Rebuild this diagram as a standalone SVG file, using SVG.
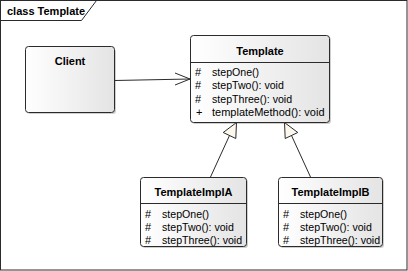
<svg xmlns="http://www.w3.org/2000/svg" width="408" height="271" viewBox="0 0 408 271">
<style>
text{font-family:"Liberation Sans",Arial,sans-serif;font-size:11px;fill:#000}
.b{font-weight:bold}
.m{font-size:10.6px}
.box{fill:url(#g);stroke:#2b2b2b;stroke-width:1}
.sh{fill:#cfcfcf}
.ln{stroke:#2b2b2b;stroke-width:1;fill:none}
.tri{fill:#fdf8ee;stroke:#2b2b2b;stroke-width:1}
</style>
<defs>
<linearGradient id="g" x1="0" y1="0" x2="1" y2="0">
<stop offset="0" stop-color="#ffffff"/>
<stop offset="1" stop-color="#e4e4e4"/>
</linearGradient>
</defs>
<rect x="0" y="0" width="408" height="271" fill="#fff"/>
<g id="frame">
<rect x="0.5" y="0.5" width="406.5" height="269.5" fill="none" stroke="#2b2b2b"/>
<path class="ln" d="M0.5 20.5 H81.5 L96.5 0.5"/>
<text class="b" x="7" y="14.5">class Template</text>
</g>
<g id="Client">
<rect class="sh" x="27" y="49" width="89" height="65" rx="3"/>
<rect class="box" x="25.5" y="46.5" width="89" height="66" rx="3"/>
<text class="b" x="70" y="65" text-anchor="middle">Client</text>
</g>
<g id="Template">
<rect class="sh" x="192" y="37" width="139" height="87" rx="3"/>
<rect class="box" x="190.5" y="35.5" width="139" height="87" rx="3"/>
<line class="ln" x1="190.5" y1="62.5" x2="329.5" y2="62.5"/>
<text class="b" x="260" y="55" text-anchor="middle">Template</text>
<text x="195" y="75.5">#</text><text x="212" y="75.5" class="m">stepOne()</text>
<text x="195" y="89">#</text><text x="212" y="89" class="m">stepTwo(): void</text>
<text x="195" y="102.5">#</text><text x="212" y="102.5" class="m">stepThree(): void</text>
<text x="196" y="116">+</text><text x="212" y="116">templateMethod(): void</text>
</g>
<g id="TemplateImplA">
<rect class="sh" x="142" y="179" width="106" height="69" rx="3"/>
<rect class="box" x="140.5" y="177.5" width="106" height="69" rx="3"/>
<line class="ln" x1="140.5" y1="203.5" x2="246.5" y2="203.5"/>
<text class="b" x="193.5" y="195.5" text-anchor="middle">TemplateImplA</text>
<text x="145" y="218">#</text><text x="162" y="218" class="m">stepOne()</text>
<text x="145" y="231">#</text><text x="162" y="231" class="m">stepTwo(): void</text>
<text x="145" y="244">#</text><text x="162" y="244" class="m">stepThree(): void</text>
</g>
<g id="TemplateImplB">
<rect class="sh" x="280" y="179" width="104" height="69" rx="3"/>
<rect class="box" x="278.5" y="177.5" width="104" height="69" rx="3"/>
<line class="ln" x1="278.5" y1="203.5" x2="382.5" y2="203.5"/>
<text class="b" x="330.5" y="195.5" text-anchor="middle">TemplateImplB</text>
<text x="283" y="218">#</text><text x="300" y="218" class="m">stepOne()</text>
<text x="283" y="231">#</text><text x="300" y="231" class="m">stepTwo(): void</text>
<text x="283" y="244">#</text><text x="300" y="244" class="m">stepThree(): void</text>
</g>
<g id="connectors">
<path class="ln" d="M114.5 80.5 L190 79"/>
<path class="ln" d="M175 73 L190 79 L175 85"/>
<path class="ln" d="M210.5 177 L229.5 135.5"/>
<path class="tri" d="M236.5 122.5 L223.2 132.5 L235.8 138.5 Z"/>
<path class="ln" d="M310.5 177 L291.5 135.5"/>
<path class="tri" d="M284.5 122.5 L285.2 138.5 L297.8 132.5 Z"/>
</g>
</svg>
